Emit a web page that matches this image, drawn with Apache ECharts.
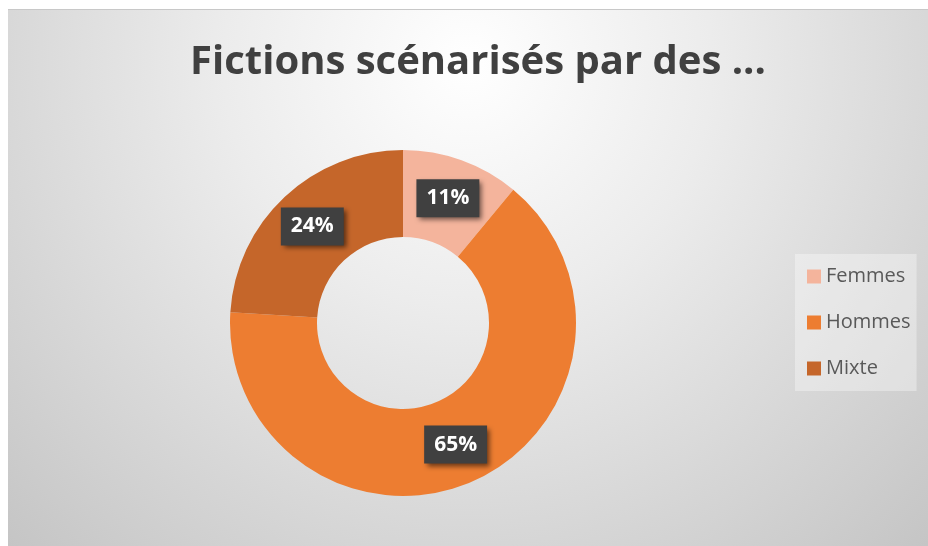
<!DOCTYPE html>
<html>
<head>
<meta charset="utf-8">
<script src="https://cdn.jsdelivr.net/npm/echarts@6/dist/echarts.min.js"></script>
<style>
  html, body { margin: 0; padding: 0; background: #fff; }
  #chart { width: 928px; height: 546px; }
</style>
</head>
<body>
<div id="chart"></div>
<script>
// data
const categories = ['Femmes', 'Hommes', 'Mixte'];
const values = [11, 65, 24];
const colors = ['#F4B49C', '#ED7D31', '#C5662A'];
const titleText = 'Fictions scénarisés par des ...';

const chart = echarts.init(document.getElementById('chart'));

chart.setOption({
    color: colors,
    animation: false,
    graphic: [
        {
            type: 'rect',
            silent: true,
            z: -10,
            shape: { x: 8, y: 9, width: 920, height: 537 },
            style: {
                fill: new echarts.graphic.RadialGradient(0.5, 0.1, 1.3, [
                    { offset: 0, color: '#ffffff' },
                    { offset: 0.35, color: '#ececec' },
                    { offset: 1, color: '#c2c2c2' }
                ])
            }
        },
        {
            type: 'line',
            silent: true,
            z: -9,
            shape: { x1: 8, y1: 9.5, x2: 928, y2: 9.5 },
            style: { stroke: '#c8c8c8', lineWidth: 1 }
        }
    ],
    title: {
        text: titleText,
        left: 473,
        top: 38,
        textAlign: 'center',
        textStyle: {
            fontFamily: 'Open Sans',
            fontWeight: 'bold',
            fontSize: 40,
            color: '#404040'
        }
    },
    legend: {
        orient: 'vertical',
        left: 795,
        top: 254,
        padding: [12, 6, 12, 12],
        itemGap: 25,
        itemWidth: 14,
        itemHeight: 14,
        icon: 'rect',
        backgroundColor: 'rgba(255,255,255,0.35)',
        data: categories,
        textStyle: {
            fontFamily: 'Open Sans',
            fontSize: 20,
            color: '#595959',
            lineHeight: 21
        }
    },
    series: [
        {
            type: 'pie',
            center: [403, 323],
            radius: [86, 173],
            startAngle: 90,
            clockwise: true,
            avoidLabelOverlap: false,
            label: {
                show: true,
                position: 'inside',
                formatter: '{d}%',
                fontFamily: 'Open Sans',
                fontWeight: 'bold',
                fontSize: 21,
                color: '#ffffff',
                backgroundColor: '#404040',
                padding: [10, 10, 7, 10],
                shadowColor: 'rgba(0,0,0,0.55)',
                shadowBlur: 5,
                shadowOffsetX: 3,
                shadowOffsetY: 3
            },
            labelLine: { show: false },
            emphasis: { disabled: true },
            data: categories.map((name, i) => ({ name: name, value: values[i] }))
        }
    ]
});
</script>
</body>
</html>
